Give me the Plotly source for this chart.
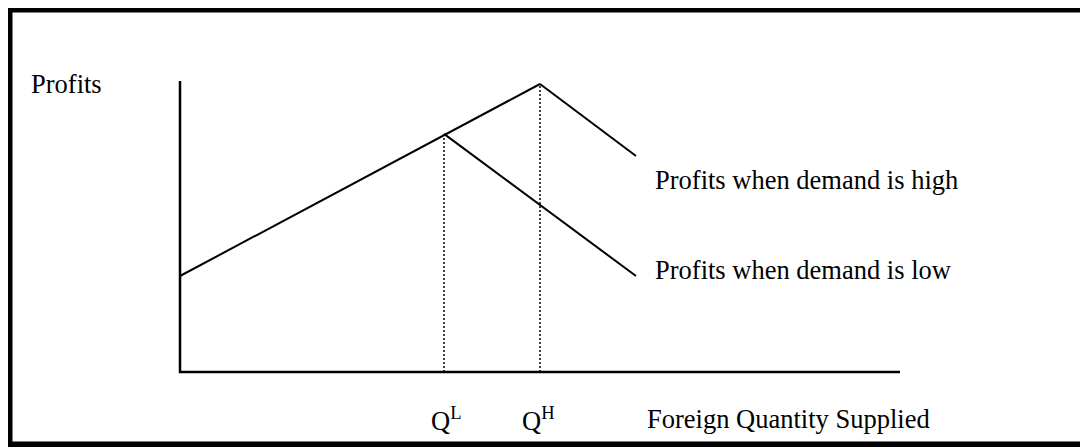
import plotly.graph_objects as go

# quantity / profit values in diagram units
q_rise = [0.0, 3.75]
p_rise = [1.0, 3.0]
q_high = [3.75, 4.75]
p_high = [3.0, 2.25]
q_low = [2.75, 4.75]
p_low = [2.48, 1.0]
q_marks = [2.75, 3.75]
p_marks = [2.48, 3.0]
q_axis_end = 7.5
p_axis_end = 3.03

# page has an 8px body margin, so the figure is a bit smaller than the window
PAD = 8
W, H = 1080, 439
ox, oy, unit = 180 - PAD, 372 - PAD, 96   # origin of the diagram (fig px), px per unit


def px_x(px):
    return (px - PAD) / W


def px_y(py):
    return 1 - (py - PAD) / H


black = 'black'
font = dict(family='Liberation Serif, Times New Roman, serif', size=26.5, color=black)

fig = go.Figure()

# axes
fig.add_trace(go.Scatter(x=[0, 0, q_axis_end], y=[p_axis_end, 0, 0], mode='lines',
                         line=dict(color=black, width=2.5)))
# profit curves
fig.add_trace(go.Scatter(x=q_rise, y=p_rise, mode='lines', line=dict(color=black, width=2)))
fig.add_trace(go.Scatter(x=q_high, y=p_high, mode='lines', line=dict(color=black, width=2)))
fig.add_trace(go.Scatter(x=q_low, y=p_low, mode='lines', line=dict(color=black, width=2)))
# dotted drop lines
for q, p in zip(q_marks, p_marks):
    fig.add_trace(go.Scatter(x=[q, q], y=[0, p], mode='lines',
                             line=dict(color=black, width=1.5, dash='2px,2px')))

labels = [
    ('Profits', 30, 84),
    ('Profits when demand is high', 654, 180),
    ('Profits when demand is low', 654, 270),
    ('Q<sup>L</sup>', 430, 419),
    ('Q<sup>H</sup>', 521, 419),
    ('Foreign Quantity Supplied', 646, 419),
]
for txt, lx, ly in labels:
    fig.add_annotation(text=txt, x=px_x(lx), y=px_y(ly), xref='paper', yref='paper',
                       xanchor='left', yanchor='middle', showarrow=False, font=font,
                       borderpad=0)

# frame around the figure
fig.add_shape(type='rect', xref='paper', yref='paper',
              x0=px_x(9), x1=1.05, y0=px_y(445), y1=px_y(9),
              line=dict(color=black, width=7))

fig.update_layout(
    width=W, height=H,
    margin=dict(l=0, r=0, t=0, b=0),
    paper_bgcolor='white', plot_bgcolor='white',
    showlegend=False,
    xaxis=dict(range=[-ox / unit, (W - ox) / unit], visible=False, fixedrange=True),
    yaxis=dict(range=[(oy - H) / unit, oy / unit], visible=False, fixedrange=True),
)

fig.write_html("out.html")
